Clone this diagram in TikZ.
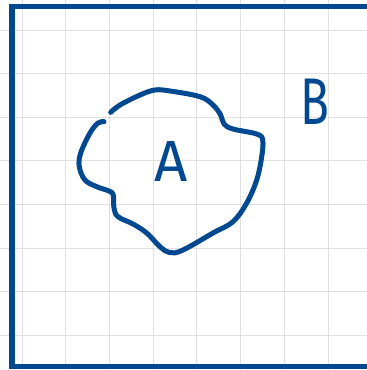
\documentclass[tikz,border=0pt]{standalone}
\usepackage{fontspec}
\setmainfont{Fira Sans}
\definecolor{inkblue}{RGB}{0,72,144}
\definecolor{gridgray}{RGB}{224,224,224}
\tikzset{
  gridline/.style={draw=gridgray, line width=1pt},
  frameline/.style={draw=inkblue, line width=5.2pt},
  inkline/.style={draw=inkblue, line width=5pt, line cap=round, line join=round},
  letter/.style={text=inkblue, inner sep=0pt}
}
\begin{document}
\begin{tikzpicture}[x=1pt, y=-1pt]
\useasboundingbox (0,0) rectangle (367,370);
\fill[white] (0,0) rectangle (367,370);
% grid
\foreach \i in {0,...,7} {
  \draw[gridline] ({22.1+43.7*\i},0) -- ({22.1+43.7*\i},370);
  \draw[gridline] (0,{30.1+43.6*\i}) -- (367,{30.1+43.6*\i});
}
% frame
\draw[frameline] (380,6.7) -- (12,6.7) -- (12,366.5) -- (380,366.5);
% blob
\draw[inkline] plot[smooth, tension=0.6] coordinates {
  (110.7,112.3) (120,105) (140,95) (155,90) (170,91) (200,96.7) (213,105)
  (220.7,115) (224,124) (233,129) (256.7,134) (262.7,140) (261.7,156.7)
  (256.7,180) (246.7,203) (233,221.7) (213,233) (183,250) (170,252.7)
  (160,246.7) (146.7,233) (133,224) (118,216.7) (114,208) (113.3,195)
  (109,191) (96.7,186.7) (85,180) (79.3,166.7) (80.7,153) (90,133)
  (98,123) (104,121.7)};
% letters
\node[letter, font=\fontsize{58}{58}\selectfont] (A) at (171.5,162) {A};
\node[letter, font=\fontsize{66}{66}\selectfont, xscale=0.72] (B) at (315,102) {B};
\end{tikzpicture}
\end{document}
